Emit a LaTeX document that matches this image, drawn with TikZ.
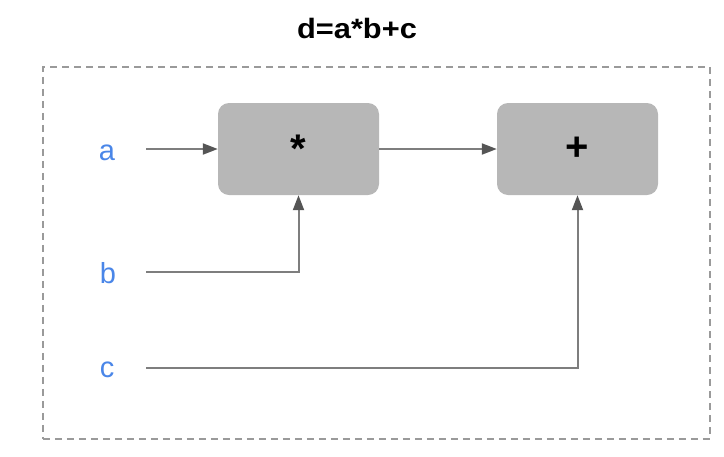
\documentclass[tikz,border=0pt]{standalone}
\usepackage{fontspec}
\setmainfont{Liberation Sans}
\usetikzlibrary{arrows.meta}
\definecolor{boxgray}{HTML}{B7B7B7}
\definecolor{linegray}{HTML}{7E7E7E}
\definecolor{tipgray}{HTML}{555555}
\definecolor{dashgray}{HTML}{9A9A9A}
\definecolor{lblblue}{HTML}{4A86E8}
\begin{document}
\begin{tikzpicture}[x=1pt,y=-1pt,
  opbox/.style={fill=boxgray, rounded corners=11pt, minimum width=161pt, minimum height=92pt, inner sep=0pt, font=\bfseries\fontsize{40}{40}\selectfont},
  varlabel/.style={text=lblblue, font=\fontsize{29}{29}\selectfont, inner sep=0pt},
  conn/.style={draw=linegray, line width=2pt, -{Triangle[length=15pt,width=11pt,color=tipgray]}},
  framebox/.style={draw=dashgray, line width=1.5pt, dash pattern=on 7pt off 5pt, inner sep=0pt, minimum width=667pt, minimum height=372pt, anchor=north west}]
\useasboundingbox (0,0) rectangle (724,456);
\node[framebox] (frame) at (42,66) {};
\node[font=\bfseries\fontsize{28}{28}\selectfont] (title) at (357,28) {\scalebox{1.1}[1]{d=a*b+c}};
\node[opbox] (mul) at (298.5,149) {*};
\node[opbox] (add) at (577.5,149) {+};
\node[varlabel] (a) at (107,153) {a};
\node[varlabel] (b) at (108,273.5) {b};
\node[varlabel] (c) at (107,370) {c};
\coordinate (a0) at (146,149);
\coordinate (b0) at (146,272);
\coordinate (c0) at (146,368);
\draw[conn] (a0) -- (mul);
\draw[conn] (mul) -- (add);
\draw[conn] (b0) -| (mul.south);
\draw[conn] (c0) -| (add.south);
\end{tikzpicture}
\end{document}
